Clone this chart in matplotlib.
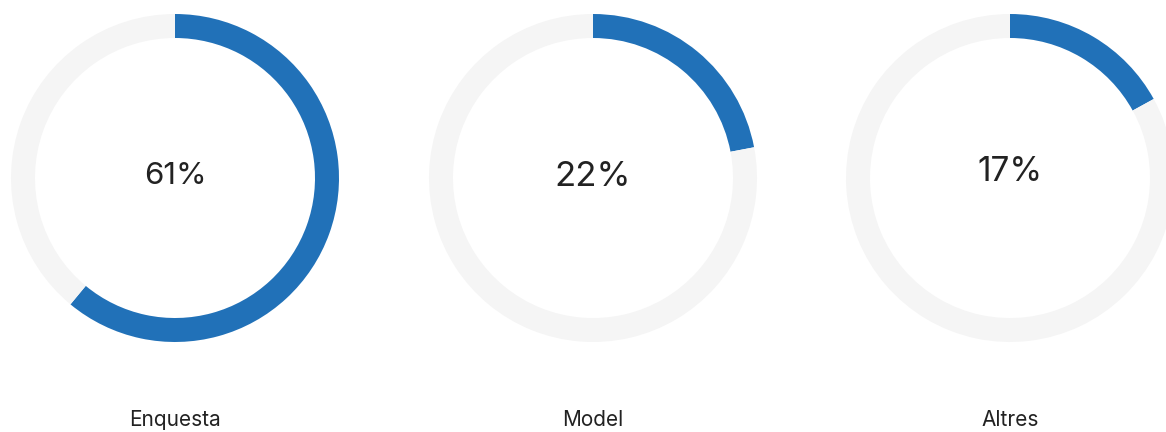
import matplotlib
matplotlib.use("Agg")
import matplotlib.pyplot as plt

labels = ["Enquesta", "Model", "Altres"]
shares = [61, 22, 17]
value_text = ["61%", "22%", "17%"]

blue = "#2171b8"
grey = "#f5f5f5"

plt.rcParams['font.family'] = ['Inter', 'DejaVu Sans']

W, H = 1166, 432
fig = plt.figure(figsize=(W / 100, H / 100), dpi=100)
ax = fig.add_axes([0, 0, 1, 1])

centers_x = [175, 593, 1010]
cy = H - 178
text_y = [H - 176, H - 177, H - 172]
text_size = [22.5, 25, 24]

for i in range(3):
    ax.pie([shares[i], 100 - shares[i]], colors=[blue, grey],
           center=(centers_x[i], cy), radius=164, startangle=90,
           counterclock=False, wedgeprops=dict(width=24, linewidth=0),
           frame=True)
    ax.text(centers_x[i], text_y[i], value_text[i], ha="center", va="center",
            fontsize=text_size[i], color="#222222")
    ax.text(centers_x[i], H - 420, labels[i], ha="center", va="center",
            fontsize=15, color="#222222")

ax.set_xlim(0, W)
ax.set_ylim(0, H)
ax.set_aspect("equal")
ax.axis("off")
fig.savefig("out.png", dpi=100)
